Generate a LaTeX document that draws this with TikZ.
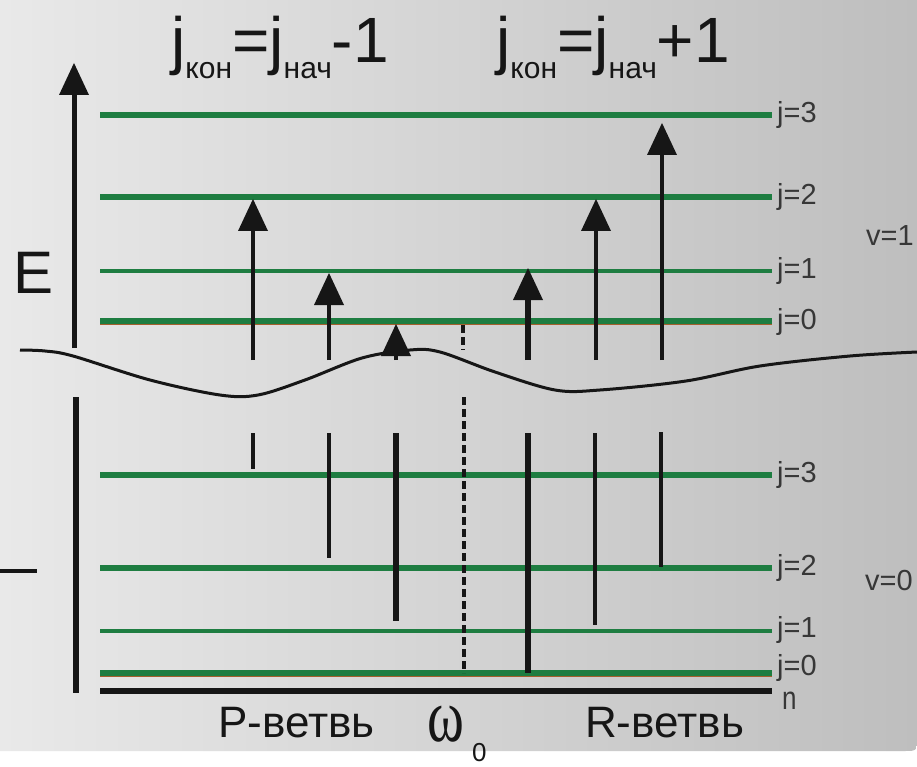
\documentclass[tikz,border=0pt]{standalone}
\usepackage{fontspec}
\setmainfont{Liberation Sans}
\newfontfamily\serifgr{Liberation Serif}
\usetikzlibrary{arrows.meta}
\definecolor{lvl}{RGB}{30,125,65}
\definecolor{lvlbr}{RGB}{165,95,45}
\definecolor{lbl}{RGB}{55,55,55}
\definecolor{ink}{RGB}{22,22,22}
\definecolor{bgl}{RGB}{233,233,233}
\definecolor{bgr}{RGB}{190,190,190}
\begin{document}
\begin{tikzpicture}[x=1pt,y=-1pt,
  level/.style={draw=lvl,line width=6pt},
  thinlevel/.style={draw=lvl,line width=3.5pt},
  brline/.style={draw=lvlbr,line width=1.2pt},
  jlab/.style={anchor=base west,inner sep=0pt,text=lbl,font=\fontsize{29}{29}\selectfont},
  title/.style={anchor=base west,inner sep=0pt,text=ink,font=\fontsize{64}{64}\selectfont},
  branch/.style={anchor=base west,inner sep=0pt,text=ink,font=\fontsize{44}{44}\selectfont},
  trans/.style={draw=ink,-{Triangle[length=32pt,width=30pt,line width=0pt]}},
  seg/.style={draw=ink},
  dashline/.style={draw=ink,line width=3.5pt,dash pattern=on 8pt off 4pt}
]
\useasboundingbox (0,0) rectangle (917,767);
\fill[white] (0,0) rectangle (917,767);
\shade[left color=bgl,right color=bgr] (0,0) -- (917,0) -- (917,738) .. controls (917,751) .. (904,751) -- (0,751) -- cycle;

% titles
\node[title] (t1) at (171,63) {j\raisebox{-16pt}{\fontsize{30}{30}\selectfont кон}=j\raisebox{-16pt}{\fontsize{30}{30}\selectfont нач}-1};
\node[title] (t2) at (496,63) {j\raisebox{-16pt}{\fontsize{30}{30}\selectfont кон}=j\raisebox{-16pt}{\fontsize{30}{30}\selectfont нач}+1};

% upper levels v=1
\draw[level] (100,115.5) -- (772,115.5);
\draw[level] (100,197.5) -- (772,197.5);
\draw[thinlevel] (100,271) -- (772,271);
\draw[brline] (100,324) -- (772,324);
\draw[level] (100,321) -- (772,321);
% lower levels v=0
\draw[level] (100,475) -- (772,475);
\draw[level] (100,568) -- (772,568);
\draw[thinlevel] (100,631) -- (772,631);
\draw[brline] (100,676) -- (772,676);
\draw[level] (100,673) -- (772,673);
\draw[draw=ink,line width=5.5pt] (100,691) -- (772,691);

% level labels
\node[jlab] (u3) at (777,123) {j=3};
\node[jlab] (u2) at (777,205) {j=2};
\node[jlab] (u1) at (777,278) {j=1};
\node[jlab] (u0) at (777,329) {j=0};
\node[jlab] (l3) at (777,482) {j=3};
\node[jlab] (l2) at (777,575) {j=2};
\node[jlab] (l1) at (777,637) {j=1};
\node[jlab] (l0) at (777,675) {j=0};
\node[jlab,font=\fontsize{26}{26}\selectfont] (nn) at (782,709) {\scalebox{1}[1.25]{n}};
\node[jlab] (v1) at (866,245) {v=1};
\node[jlab] (v0) at (865,590) {v=0};

% energy axis
\draw[trans,line width=5pt] (74,348) -- (74,63);
\node[anchor=base west,inner sep=0pt,text=ink,font=\fontsize{60}{60}\selectfont] (E) at (13,293) {E};
\draw[seg,line width=6pt] (76,397) -- (76,693);
\draw[seg,line width=4pt] (0,571) -- (37,571);

% wavy break
\draw[ink,line width=3pt] plot[smooth,tension=0.55] coordinates {(20,350) (45,351) (73,356) (150,380) (220,395) (258,395) (305,380) (362,358) (410,350) (440,352) (495,372) (555,390) (600,390) (686,381) (760,366) (850,356) (917,352)};

% dashed omega_0 line
\draw[dashline] (463,325) -- (463,350);
\draw[dashline] (464,397) -- (464,673);

% upper transition arrows
\draw[trans,line width=4.3pt] (253,360) -- (253,199);
\draw[trans,line width=4.3pt] (329,360) -- (329,273);
\draw[trans,line width=4.3pt] (396,360) -- (396,324);
\draw[trans,line width=6pt] (528,360) -- (528,268);
\draw[trans,line width=4.7pt] (596,360) -- (596,199);
\draw[trans,line width=4pt] (662,360) -- (662,123);

% lower segments
\draw[seg,line width=3.7pt] (253,433) -- (253,469);
\draw[seg,line width=4pt] (329,433) -- (329,558);
\draw[seg,line width=6.3pt] (396,433) -- (396,621);
\draw[seg,line width=6.7pt] (528,433) -- (528,673);
\draw[seg,line width=4pt] (595,433) -- (595,625);
\draw[seg,line width=3.7pt] (661,432) -- (661,567);

% bottom labels
\node[branch] (P) at (218,737) {P-ветвь};
\node[branch] (R) at (585,737) {R-ветвь};
\node[anchor=base west,inner sep=0pt,text=ink,font=\serifgr\fontsize{56}{56}\selectfont] (om) at (427,741) {\scalebox{1}[1.35]{ω}};
\node[anchor=base west,inner sep=0pt,text=ink,font=\fontsize{26}{26}\selectfont] (om0) at (472,761) {0};
\end{tikzpicture}
\end{document}
